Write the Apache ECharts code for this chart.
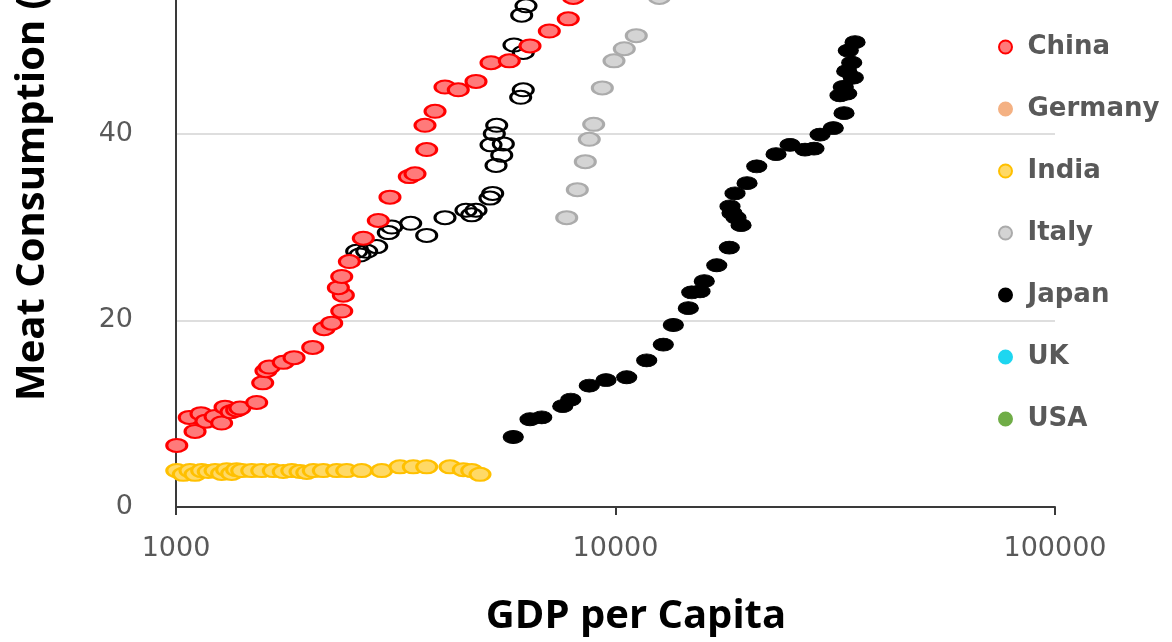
<!DOCTYPE html>
<html>
<head>
<meta charset="utf-8">
<style>
  html, body { margin: 0; padding: 0; background: #fff; overflow: hidden; }
  #frame { position: relative; width: 1172px; height: 642px; overflow: hidden; }
  /* the plot keeps going above the visible frame */
  #chart { position: absolute; left: 0; top: -100px; width: 1172px; height: 742px; }
</style>
<script src="https://cdn.jsdelivr.net/npm/echarts@6/dist/echarts.min.js"></script>
</head>
<body>
<div id="frame"><div id="chart"></div></div>
<script>
// GDP per capita (log scale) vs meat consumption, one scatter series per country
const countries = ['Brazil', 'China', 'Germany', 'India', 'Italy', 'Japan', 'UK', 'USA'];

const brazil = [[2577,27.4],[2622,27.0],[2716,27.4],[2862,27.9],[3041,29.4],[3096,30.0],[3420,30.4],[3719,29.1],[4093,31.0],[4569,31.8],[4708,31.3],[4815,31.8],[5181,33.1],[5255,33.6],[5348,36.6],[5510,37.7],[5556,38.9],[5209,38.8],[5300,40.0],[5367,40.9],[6085,43.9],[6168,44.7],[6168,48.7],[5875,49.5],[6117,52.7],[6257,53.7]];

const china = [[1004,6.6],[1072,9.6],[1105,8.1],[1140,10.0],[1170,9.2],[1227,9.7],[1270,9.0],[1293,10.7],[1334,10.2],[1374,10.4],[1398,10.6],[1526,11.2],[1575,13.3],[1602,14.6],[1630,15.0],[1754,15.5],[1856,16.0],[2047,17.1],[2172,19.1],[2261,19.7],[2383,21.0],[2403,22.7],[2341,23.5],[2383,24.7],[2480,26.3],[2668,28.8],[2886,30.7],[3068,33.2],[3395,35.4],[3498,35.7],[3719,38.3],[3686,40.9],[3885,42.4],[4093,45.0],[4388,44.7],[4815,45.6],[5209,47.6],[5733,47.8],[6390,49.4],[7070,51.0],[7808,52.3],[8017,54.6]];

const germany = [];

const india = [[1004,3.9],[1039,3.5],[1076,3.9],[1105,3.5],[1144,3.9],[1184,3.8],[1227,3.9],[1270,3.6],[1304,4.0],[1339,3.6],[1374,4.0],[1411,3.9],[1487,3.9],[1567,3.9],[1665,3.9],[1754,3.8],[1834,3.9],[1915,3.8],[1984,3.7],[2053,3.9],[2164,3.9],[2321,3.9],[2446,3.9],[2645,3.9],[2938,3.9],[3233,4.3],[3467,4.3],[3719,4.3],[4202,4.3],[4505,4.0],[4708,3.9],[4917,3.5]];

const italy = [[7745,31.0],[8187,34.0],[8537,37.0],[8717,39.4],[8920,41.0],[9333,44.9],[9922,47.8],[10471,49.1],[11150,50.5],[12582,54.6]];

const japan = [[5853,7.5],[6390,9.4],[6794,9.6],[7585,10.8],[7910,11.5],[8717,13.0],[9515,13.6],[10605,13.9],[11776,15.7],[12846,17.4],[13539,19.5],[14645,21.3],[14909,23.0],[15570,23.1],[15922,24.2],[16999,25.9],[18155,27.8],[19306,30.2],[18802,31.0],[18412,31.5],[18219,32.2],[18704,33.6],[19921,34.7],[20960,36.5],[23190,37.8],[24950,38.8],[26990,38.3],[28290,38.4],[29200,39.9],[31300,40.6],[33110,42.2],[32420,44.1],[33580,44.3],[32980,45.0],[34760,46.0],[33580,46.7],[34470,47.6],[33860,48.9],[35080,49.8]];

const uk = [];
const usa = [];

const xTicks = [1000, 10000, 100000];
const yTicks = [0, 20, 40, 60];

const xTitle = 'GDP per Capita';
const yTitle = 'Meat Consumption (kg per capita)';

// ellipse outline, stretched to the symbol box
const ellipse = 'path://M0,50A50,50,0,1,1,100,50A50,50,0,1,1,0,50Z';

const styles = {
  Brazil:  { color: 'rgba(0,0,0,0)', borderColor: '#000000', borderWidth: 2.5, opacity: 1 },
  China:   { color: '#ff7a7a', borderColor: '#ff0000', borderWidth: 2.5, opacity: 1 },
  Germany: { color: '#f4b183', borderColor: '#f4b183', borderWidth: 1, opacity: 1 },
  India:   { color: '#ffd966', borderColor: '#ffc000', borderWidth: 2.5, opacity: 1 },
  Italy:   { color: '#d4d4d4', borderColor: '#ababab', borderWidth: 2.5, opacity: 1 },
  Japan:   { color: '#000000', borderColor: '#000000', borderWidth: 1, opacity: 1 },
  UK:      { color: '#1ed6f0', borderColor: '#1ed6f0', borderWidth: 1, opacity: 1 },
  USA:     { color: '#70ad47', borderColor: '#70ad47', borderWidth: 1, opacity: 1 }
};

const seriesData = {
  Brazil: brazil, China: china, Germany: germany, India: india,
  Italy: italy, Japan: japan, UK: uk, USA: usa
};

const chart = echarts.init(document.getElementById('chart'), null, { renderer: 'canvas' });

chart.setOption({
  animation: false,
  backgroundColor: '#ffffff',
  grid: { left: 176, right: 117, top: 47, bottom: 131, containLabel: false },
  legend: {
    orient: 'vertical',
    left: 993,
    top: 67,
    itemWidth: 20,
    itemHeight: 13,
    itemGap: 36,
    data: countries,
    textStyle: {
      fontFamily: 'DejaVu Sans',
      fontWeight: 'bold',
      fontSize: 26,
      color: '#595959',
      padding: [0, 0, 0, 7]
    }
  },
  xAxis: {
    type: 'log',
    logBase: 10,
    min: xTicks[0],
    max: xTicks[xTicks.length - 1],
    name: xTitle,
    nameLocation: 'middle',
    nameGap: 90,
    nameTextStyle: {
      fontFamily: 'Open Sans',
      fontWeight: 'bold',
      fontSize: 40,
      color: '#000000',
      padding: [0, 0, 0, 41]
    },
    axisLine: { lineStyle: { color: '#3a3a3a', width: 2 } },
    axisTick: { show: true, length: 8, lineStyle: { color: '#3a3a3a', width: 2 } },
    minorTick: { show: false },
    splitLine: { show: false },
    axisLabel: {
      margin: 28,
      fontFamily: 'DejaVu Sans',
      fontSize: 27,
      color: '#595959',
      formatter: v => String(Math.round(v))
    }
  },
  yAxis: {
    type: 'value',
    min: yTicks[0],
    max: yTicks[yTicks.length - 1],
    interval: yTicks[1] - yTicks[0],
    axisLine: { show: true, lineStyle: { color: '#3a3a3a', width: 2 } },
    axisTick: { show: false },
    splitLine: { show: true, lineStyle: { color: '#dedede', width: 2 } },
    axisLabel: {
      margin: 43,
      fontFamily: 'DejaVu Sans',
      fontSize: 27,
      color: '#595959'
    }
  },
  graphic: [{
    type: 'text',
    x: 33,
    y: 501,
    rotation: Math.PI / 2,
    style: {
      text: yTitle,
      fontFamily: 'Open Sans',
      fontWeight: 'bold',
      fontSize: 40,
      fill: '#000000',
      align: 'left',
      verticalAlign: 'middle',
      textAlign: 'left',
      textVerticalAlign: 'middle'
    }
  }],
  series: countries.map(name => ({
    name: name,
    type: 'scatter',
    symbol: ellipse,
    symbolSize: [20, 13],
    data: seriesData[name],
    itemStyle: styles[name],
    emphasis: { disabled: true }
  }))
});
</script>
</body>
</html>
